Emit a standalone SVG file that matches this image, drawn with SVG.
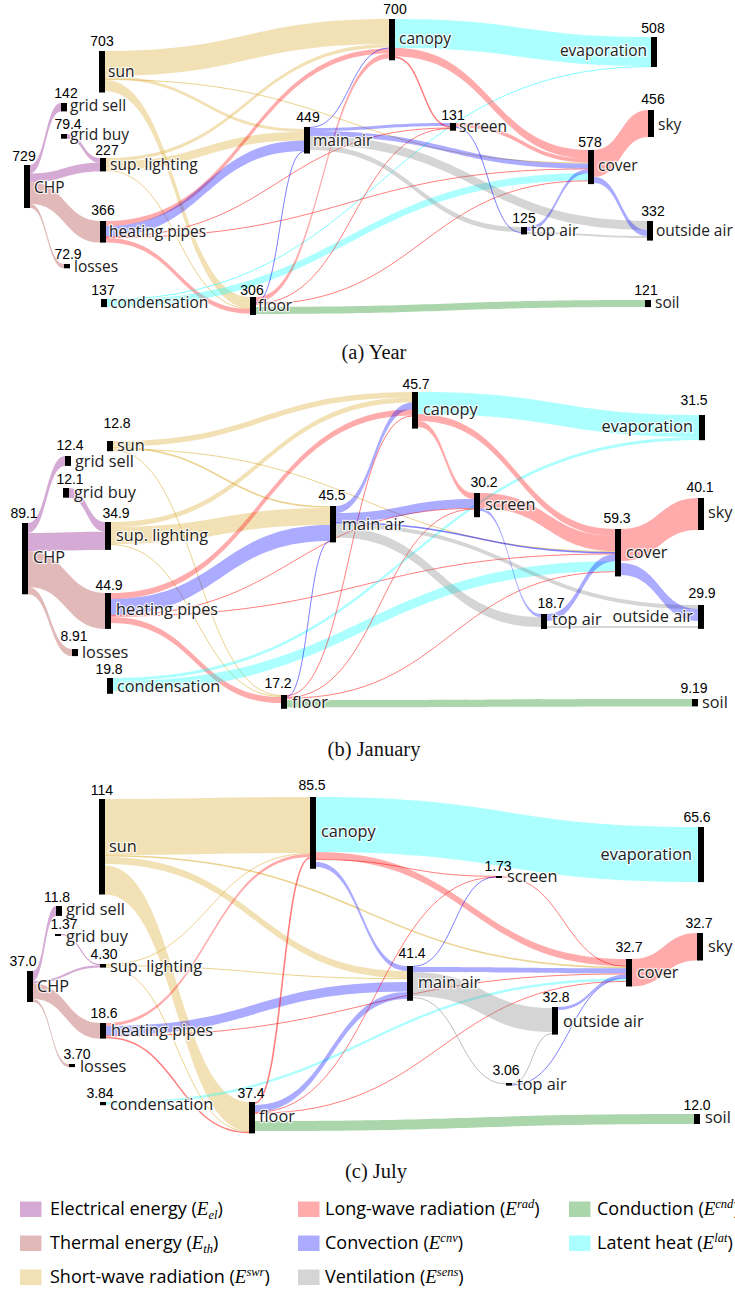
<svg xmlns="http://www.w3.org/2000/svg" width="735" height="1291" viewBox="0 0 735 1291">
<style>
.el{fill:#800080;stroke:#800080}
.th{fill:#a52a2a;stroke:#a52a2a}
.sw{fill:#daa520;stroke:#daa520}
.lw{fill:#ff0000;stroke:#ff0000}
.cv{fill:#0000ff;stroke:#0000ff}
.ve{fill:#808080;stroke:#808080}
.cd{fill:#008000;stroke:#008000}
.la{fill:#00ffff;stroke:#00ffff}
.r{stroke:none;fill-opacity:.33}
.t{fill:none;stroke-opacity:.5;stroke-width:1}
.nd{fill:#000}
.v{font-family:"Liberation Sans",Arial,sans-serif;font-size:14px;text-anchor:middle;fill:#000}
.n{font-family:"Open Sans","Noto Sans",sans-serif;font-size:15.5px;fill:#222;stroke:#fff;stroke-width:2.5px;stroke-opacity:.75;stroke-linejoin:round;paint-order:stroke}
.n2{font-size:16.3px}
.e{text-anchor:end}
.cap{font-family:"Liberation Serif","Times New Roman",serif;font-size:20.5px;text-anchor:middle;fill:#111}
.lg{font-family:"Open Sans","Noto Sans",sans-serif;font-size:18px;fill:#000}
.m{font-family:"Liberation Serif",serif;font-style:italic;font-size:19px}
.s{font-family:"Liberation Serif",serif;font-style:italic;font-size:12.5px}
</style>

<!-- ===================== PANEL (a) ===================== -->
<g id="links-a">
<path class="el r" d="M30 165C45.5 165 45.5 103 61 103L61 111.4C45.5 111.4 45.5 173.4 30 173.4Z"/>
<path class="el r" d="M30 173.4C65 173.4 65 162.7 100 162.7L100 171.4C65 171.4 65 182.1 30 182.1Z"/>
<path class="el r" d="M67 134C83.5 134 83.5 158 100 158L100 162.7C83.5 162.7 83.5 138.7 67 138.7Z"/>
<path class="th r" d="M30 182.1C65 182.1 65 221 100 221L100 242.6C65 242.6 65 203.7 30 203.7Z"/>
<path class="th r" d="M30 203.7C47 203.7 47 264 64 264L64 268.3C47 268.3 47 208 30 208Z"/>
<path class="sw r" d="M105 51C247 51 247 19 389 19L389 44C247 44 247 76 105 76Z"/>
<path class="sw r" d="M105 76C204.5 76 204.5 129 304 129L304 132C204.5 132 204.5 79 105 79Z"/>
<path class="sw t" d="M105 79.5C346.5 79.5 346.5 163 588 163"/>
<path class="sw r" d="M105 80C177.5 80 177.5 297 250 297L250 308C177.5 308 177.5 91 105 91Z"/>
<path class="sw r" d="M106 158C247.5 158 247.5 44 389 44L389 47.5C247.5 47.5 247.5 161.5 106 161.5Z"/>
<path class="sw r" d="M106 161.5C205 161.5 205 132 304 132L304 140.5C205 140.5 205 170 106 170Z"/>
<path class="sw t" d="M106 170.5C178 170.5 178 308.5 250 308.5"/>
<path class="lw r" d="M106 221C247.5 221 247.5 48.5 389 48.5L389 53.5C247.5 53.5 247.5 226 106 226Z"/>
<path class="cv r" d="M106 226C205 226 205 140.5 304 140.5L304 151C205 151 205 236.5 106 236.5Z"/>
<path class="lw t" d="M106 236.8C278 236.8 278 128 450 128"/>
<path class="lw t" d="M106 237.6C347 237.6 347 168.9 588 168.9"/>
<path class="lw r" d="M106 238C178 238 178 309 250 309L250 313.6C178 313.6 178 242.6 106 242.6Z"/>
<path class="la t" d="M107 299.5C379 299.5 379 66.5 651 66.5"/>
<path class="la r" d="M107 300C347.5 300 347.5 173.3 588 173.3L588 180.4C347.5 180.4 347.5 307.1 107 307.1Z"/>
<path class="lw r" d="M256 297C322.5 297 322.5 53.5 389 53.5L389 58.5C322.5 58.5 322.5 302 256 302Z"/>
<path class="cv t" d="M256 302.5C280 302.5 280 151.5 304 151.5"/>
<path class="lw t" d="M256 303.4C353 303.4 353 128.5 450 128.5"/>
<path class="lw t" d="M256 304.2C422 304.2 422 180.8 588 180.8"/>
<path class="cd r" d="M256 307C450.5 307 450.5 300 645 300L645 307C450.5 307 450.5 314 256 314Z"/>
<path class="cv t" d="M310 127.5C349.5 127.5 349.5 48 389 48"/>
<path class="cv r" d="M310 128C380 128 380 123 450 123L450 126C380 126 380 131 310 131Z"/>
<path class="cv r" d="M310 131C449 131 449 163.5 588 163.5L588 168.5C449 168.5 449 136 310 136Z"/>
<path class="ve r" d="M310 136C478.5 136 478.5 221 647 221L647 230C478.5 230 478.5 145 310 145Z"/>
<path class="ve r" d="M310 145C415.5 145 415.5 227 521 227L521 232C415.5 232 415.5 150 310 150Z"/>
<path class="la r" d="M395 19C523 19 523 37 651 37L651 66C523 66 523 48 395 48Z"/>
<path class="lw r" d="M395 48C491.5 48 491.5 150 588 150L588 158.5C491.5 158.5 491.5 56.5 395 56.5Z"/>
<path class="lw t" style="stroke-width:1.5" d="M395 57.2C422.5 57.2 422.5 126.8 450 126.8"/>
<path class="lw r" d="M456 123C522 123 522 158.5 588 158.5L588 162.5C522 162.5 522 127 456 127Z"/>
<path class="cv t" d="M456 127.5C488.5 127.5 488.5 232.5 521 232.5"/>
<path class="cv r" d="M527 227C557.5 227 557.5 169.3 588 169.3L588 173.3C557.5 173.3 557.5 231 527 231Z"/>
<path class="ve r" d="M527 232C587 232 587 236 647 236L647 238C587 238 587 234 527 234Z"/>
<path class="lw r" d="M594 150C621 150 621 110 648 110L648 137C621 137 621 177 594 177Z"/>
<path class="cv r" d="M594 177C620.5 177 620.5 230 647 230L647 236C620.5 236 620.5 183 594 183Z"/>
</g>
<g id="a-chp"><rect class="nd" x="24" y="165" width="6" height="43"/><text class="v" x="24" y="161">729</text><text class="n" x="34" y="193">CHP</text></g>
<g id="a-sun"><rect class="nd" x="99" y="51" width="6" height="41.5"/><text class="v" x="102" y="46">703</text><text class="n" x="108" y="77">sun</text></g>
<g id="a-gridsell"><rect class="nd" x="61" y="103" width="6" height="8.4"/><text class="v" x="66" y="98">142</text><text class="n" x="70" y="111">grid sell</text></g>
<g id="a-gridbuy"><rect class="nd" x="61" y="134" width="6" height="4.7"/><text class="v" x="68" y="129">79.4</text><text class="n" x="70" y="140">grid buy</text></g>
<g id="a-sup"><rect class="nd" x="100" y="158" width="6" height="13.4"/><text class="v" x="107" y="155">227</text><text class="n" x="110" y="170">sup. lighting</text></g>
<g id="a-hp"><rect class="nd" x="100" y="221" width="6" height="21.6"/><text class="v" x="103" y="215">366</text><text class="n" x="109" y="237">heating pipes</text></g>
<g id="a-losses"><rect class="nd" x="64" y="264" width="6" height="4.3"/><text class="v" x="68" y="259">72.9</text><text class="n" x="74" y="272">losses</text></g>
<g id="a-cond"><rect class="nd" x="101" y="299" width="6" height="8.1"/><text class="v" x="103" y="295">137</text><text class="n" x="110" y="308">condensation</text></g>
<g id="a-floor"><rect class="nd" x="250" y="297" width="6" height="18"/><text class="v" x="252" y="295">306</text><text class="n" x="258" y="311">floor</text></g>
<g id="a-mainair"><rect class="nd" x="304" y="127" width="6" height="26.5"/><text class="v" x="308" y="122">449</text><text class="n" x="313" y="146">main air</text></g>
<g id="a-canopy"><rect class="nd" x="389" y="19" width="6" height="41.3"/><text class="v" x="395" y="14">700</text><text class="n" x="399" y="44">canopy</text></g>
<g id="a-screen"><rect class="nd" x="450" y="123" width="6" height="7.7"/><text class="v" x="453" y="120">131</text><text class="n" x="459" y="132">screen</text></g>
<g id="a-topair"><rect class="nd" x="521" y="227" width="6" height="7.4"/><text class="v" x="524" y="223">125</text><text class="n" x="531" y="236">top air</text></g>
<g id="a-cover"><rect class="nd" x="588" y="150" width="6" height="34.1"/><text class="v" x="590" y="147">578</text><text class="n" x="598" y="171">cover</text></g>
<g id="a-evap"><rect class="nd" x="651" y="37" width="6" height="30"/><text class="v" x="653" y="33">508</text><text class="n e" x="647" y="56">evaporation</text></g>
<g id="a-sky"><rect class="nd" x="648" y="110" width="6" height="27"/><text class="v" x="653" y="104">456</text><text class="n" x="658" y="130">sky</text></g>
<g id="a-outside"><rect class="nd" x="647" y="221" width="6" height="19.6"/><text class="v" x="653" y="216">332</text><text class="n" x="656" y="236">outside air</text></g>
<g id="a-soil"><rect class="nd" x="645" y="300" width="6" height="7.1"/><text class="v" x="646" y="295">121</text><text class="n" x="655" y="308">soil</text></g>
<text class="cap" x="374" y="359">(a) Year</text>

<!-- ===================== PANEL (b) ===================== -->
<g id="links-b">
<path class="el r" d="M28 523C46.5 523 46.5 456 65 456L65 465.9C46.5 465.9 46.5 532.9 28 532.9Z"/>
<path class="el r" d="M28 532.9C66.5 532.9 66.5 531.7 105 531.7L105 549.9C66.5 549.9 66.5 551.1 28 551.1Z"/>
<path class="el r" d="M69 488C87 488 87 522 105 522L105 531.7C87 531.7 87 497.7 69 497.7Z"/>
<path class="th r" d="M28 551.1C66.5 551.1 66.5 593 105 593L105 629C66.5 629 66.5 587.1 28 587.1Z"/>
<path class="th r" d="M28 587.1C50 587.1 50 649 72 649L72 656.1C50 656.1 50 594.2 28 594.2Z"/>
<path class="sw r" d="M113 441C262.5 441 262.5 392 412 392L412 397.5C262.5 397.5 262.5 446.5 113 446.5Z"/>
<path class="sw t" style="stroke-width:1.5" d="M113 447.5C221.5 447.5 221.5 507 330 507"/>
<path class="sw t" d="M113 449C364 449 364 551.5 615 551.5"/>
<path class="sw t" d="M113 450.3C197 450.3 197 695.5 281 695.5"/>
<path class="sw r" d="M111 522C261.5 522 261.5 397.5 412 397.5L412 402.5C261.5 402.5 261.5 527 111 527Z"/>
<path class="sw r" d="M111 527C220.5 527 220.5 508 330 508L330 525C220.5 525 220.5 544 111 544Z"/>
<path class="sw t" d="M111 544.5C196 544.5 196 696.5 281 696.5"/>
<path class="lw r" d="M111 593C261.5 593 261.5 409.5 412 409.5L412 415.5C261.5 415.5 261.5 599 111 599Z"/>
<path class="cv r" d="M111 599C220.5 599 220.5 525 330 525L330 541C220.5 541 220.5 615 111 615Z"/>
<path class="lw t" d="M111 615.4C292.5 615.4 292.5 508.4 474 508.4"/>
<path class="lw t" d="M111 616.2C363 616.2 363 553.9 615 553.9"/>
<path class="lw r" d="M111 617C196 617 196 697 281 697L281 703C196 703 196 623 111 623Z"/>
<path class="la r" d="M113 678C406 678 406 437 699 437L699 440C406 440 406 681 113 681Z"/>
<path class="la r" d="M113 681C364 681 364 561.3 615 561.3L615 571.3C364 571.3 364 691 113 691Z"/>
<path class="lw t" d="M287 695.5C349.5 695.5 349.5 416 412 416"/>
<path class="cv t" d="M287 696.5C308.5 696.5 308.5 541.5 330 541.5"/>
<path class="lw t" d="M287 697.4C380.5 697.4 380.5 509.2 474 509.2"/>
<path class="lw t" d="M287 698.2C451 698.2 451 571.7 615 571.7"/>
<path class="cd r" d="M287 700C489.5 700 489.5 699 692 699L692 706.4C489.5 706.4 489.5 707.4 287 707.4Z"/>
<path class="cv r" d="M336 506C374 506 374 402.5 412 402.5L412 409.5C374 409.5 374 513 336 513Z"/>
<path class="cv r" d="M336 513C405 513 405 499 474 499L474 508C405 508 405 522 336 522Z"/>
<path class="cv t" style="stroke-width:1.5" d="M336 522.7C475.5 522.7 475.5 552.7 615 552.7"/>
<path class="ve r" d="M336 523.5C517 523.5 517 605 698 605L698 609C517 609 517 527.5 336 527.5Z"/>
<path class="ve r" d="M336 527.5C438.5 527.5 438.5 617 541 617L541 627C438.5 627 438.5 537.5 336 537.5Z"/>
<path class="la r" d="M418 392C558.5 392 558.5 415 699 415L699 437C558.5 437 558.5 414 418 414Z"/>
<path class="lw r" d="M418 414C516.5 414 516.5 529 615 529L615 536C516.5 536 516.5 421 418 421Z"/>
<path class="lw r" d="M418 421C446 421 446 493 474 493L474 499C446 499 446 427 418 427Z"/>
<path class="lw r" d="M480 493C547.5 493 547.5 536 615 536L615 551C547.5 551 547.5 508 480 508Z"/>
<path class="cv r" d="M480 508C510.5 508 510.5 614 541 614L541 617C510.5 617 510.5 511 480 511Z"/>
<path class="cv r" d="M547 614C581 614 581 554.3 615 554.3L615 561.3C581 561.3 581 621 547 621Z"/>
<path class="ve r" d="M547 626C622.5 626 622.5 626 698 626L698 628C622.5 628 622.5 628 547 628Z"/>
<path class="lw r" d="M621 529C659.5 529 659.5 498 698 498L698 530C659.5 530 659.5 561 621 561Z"/>
<path class="cv r" d="M621 563C659.5 563 659.5 609 698 609L698 621C659.5 621 659.5 575 621 575Z"/>
</g>
<g id="b-chp"><rect class="nd" x="22" y="523" width="6" height="71.3"/><text class="v" x="24" y="518">89.1</text><text class="n n2" x="33" y="563">CHP</text></g>
<g id="b-sun"><rect class="nd" x="107" y="441" width="6" height="10.2"/><text class="v" x="117" y="428">12.8</text><text class="n n2" x="117" y="451">sun</text></g>
<g id="b-gridsell"><rect class="nd" x="65" y="456" width="6" height="9.9"/><text class="v" x="70" y="450">12.4</text><text class="n n2" x="75" y="467">grid sell</text></g>
<g id="b-gridbuy"><rect class="nd" x="63" y="488" width="6" height="9.7"/><text class="v" x="70" y="484">12.1</text><text class="n n2" x="74" y="498">grid buy</text></g>
<g id="b-sup"><rect class="nd" x="105" y="522" width="6" height="27.9"/><text class="v" x="116" y="518">34.9</text><text class="n n2" x="116" y="541">sup. lighting</text></g>
<g id="b-hp"><rect class="nd" x="105" y="593" width="6" height="35.9"/><text class="v" x="109" y="590">44.9</text><text class="n n2" x="116" y="615">heating pipes</text></g>
<g id="b-losses"><rect class="nd" x="72" y="649" width="6" height="7.1"/><text class="v" x="74" y="641">8.91</text><text class="n n2" x="82" y="658">losses</text></g>
<g id="b-cond"><rect class="nd" x="107" y="678" width="6" height="15.8"/><text class="v" x="109" y="674">19.8</text><text class="n n2" x="117" y="692">condensation</text></g>
<g id="b-floor"><rect class="nd" x="281" y="695" width="6" height="13.8"/><text class="v" x="278" y="688">17.2</text><text class="n n2" x="292" y="708">floor</text></g>
<g id="b-mainair"><rect class="nd" x="330" y="506" width="6" height="36.4"/><text class="v" x="332" y="500">45.5</text><text class="n n2" x="342" y="530">main air</text></g>
<g id="b-canopy"><rect class="nd" x="412" y="392" width="6" height="36.6"/><text class="v" x="416" y="389">45.7</text><text class="n n2" x="423" y="415">canopy</text></g>
<g id="b-screen"><rect class="nd" x="474" y="493" width="6" height="24.2"/><text class="v" x="484" y="487">30.2</text><text class="n n2" x="485" y="510">screen</text></g>
<g id="b-topair"><rect class="nd" x="541" y="614" width="6" height="15"/><text class="v" x="551" y="608">18.7</text><text class="n n2" x="552" y="625">top air</text></g>
<g id="b-cover"><rect class="nd" x="615" y="529" width="6" height="47.4"/><text class="v" x="617" y="523">59.3</text><text class="n n2" x="626" y="558">cover</text></g>
<g id="b-evap"><rect class="nd" x="699" y="415" width="6" height="25.2"/><text class="v" x="694" y="405">31.5</text><text class="n n2 e" x="693" y="432">evaporation</text></g>
<g id="b-sky"><rect class="nd" x="698" y="498" width="6" height="32"/><text class="v" x="700" y="492">40.1</text><text class="n n2" x="708" y="518">sky</text></g>
<g id="b-outside"><rect class="nd" x="698" y="605" width="6" height="23.9"/><text class="v" x="702" y="598">29.9</text><text class="n n2 e" x="693" y="622">outside air</text></g>
<g id="b-soil"><rect class="nd" x="692" y="699" width="6" height="7.4"/><text class="v" x="694" y="693">9.19</text><text class="n n2" x="702" y="708">soil</text></g>
<text class="cap" x="374" y="756">(b) January</text>

<!-- ===================== PANEL (c) ===================== -->
<g id="links-c">
<path class="el r" d="M33 971C44.5 971 44.5 906 56 906L56 915.9C44.5 915.9 44.5 980.9 33 980.9Z"/>
<path class="el r" d="M33 980.9C66.5 980.9 66.5 965.2 100 965.2L100 967.6C66.5 967.6 66.5 983.4 33 983.4Z"/>
<path class="el t" d="M61 934.6C80.5 934.6 80.5 964.6 100 964.6"/>
<path class="th r" d="M33 983.4C66.5 983.4 66.5 1023 100 1023L100 1038.6C66.5 1038.6 66.5 999 33 999Z"/>
<path class="th r" d="M33 999C51 999 51 1064 69 1064L69 1067.1C51 1067.1 51 1002.1 33 1002.1Z"/>
<path class="sw r" d="M105 799C207.5 799 207.5 797 310 797L310 853C207.5 853 207.5 855 105 855Z"/>
<path class="sw t" style="stroke-width:1.5" d="M105 855.7C365.5 855.7 365.5 967.5 626 967.5"/>
<path class="sw r" d="M105 857C256 857 256 971 407 971L407 978C256 978 256 864 105 864Z"/>
<path class="sw r" d="M105 865.5C177 865.5 177 1102 249 1102L249 1131C177 1131 177 894.5 105 894.5Z"/>
<path class="sw t" d="M106 964.5C208 964.5 208 853.5 310 853.5"/>
<path class="sw t" d="M106 965.7C256.5 965.7 256.5 978.7 407 978.7"/>
<path class="sw t" d="M106 967C177.5 967 177.5 1131.5 249 1131.5"/>
<path class="lw r" d="M106 1023C208 1023 208 854 310 854L310 857C208 857 208 1026 106 1026Z"/>
<path class="cv r" d="M106 1026C256.5 1026 256.5 982 407 982L407 991.5C256.5 991.5 256.5 1035.5 106 1035.5Z"/>
<path class="lw t" d="M106 1035.9C366 1035.9 366 973.9 626 973.9"/>
<path class="lw t" style="stroke-width:1.5" d="M106 1037.6C177.5 1037.6 177.5 1132.6 249 1132.6"/>
<path class="la r" d="M106 1102C366 1102 366 978.5 626 978.5L626 981C366 981 366 1104.5 106 1104.5Z"/>
<path class="lw t" style="stroke-width:1.6" d="M255 1103C282.5 1103 282.5 858 310 858"/>
<path class="cv r" d="M255 1105C331 1105 331 992 407 992L407 999C331 999 331 1112 255 1112Z"/>
<path class="lw t" d="M255 1112.5C375.5 1112.5 375.5 877.2 496 877.2"/>
<path class="lw t" d="M255 1113.3C440.5 1113.3 440.5 981.4 626 981.4"/>
<path class="cd r" d="M255 1121C474.5 1121 474.5 1114 694 1114L694 1124C474.5 1124 474.5 1131 255 1131Z"/>
<path class="la r" d="M316 797C507 797 507 827 698 827L698 882C507 882 507 852 316 852Z"/>
<path class="lw r" d="M316 852C471 852 471 959 626 959L626 966C471 966 471 859 316 859Z"/>
<path class="lw t" d="M316 859.5C406 859.5 406 876.3 496 876.3"/>
<path class="cv r" d="M316 862C361.5 862 361.5 966 407 966L407 971C361.5 971 361.5 867 316 867Z"/>
<path class="cv t" d="M413 966.5C454.5 966.5 454.5 876.8 496 876.8"/>
<path class="cv r" d="M413 967C519.5 967 519.5 968.3 626 968.3L626 973.3C519.5 973.3 519.5 972 413 972Z"/>
<path class="ve r" d="M413 972C482.5 972 482.5 1008 552 1008L552 1032C482.5 1032 482.5 996 413 996Z"/>
<path class="ve t" d="M413 997.5C459.5 997.5 459.5 1084 506 1084"/>
<path class="lw t" d="M502 876.8C564 876.8 564 966.4 626 966.4"/>
<path class="cv r" d="M558 1007C592 1007 592 974.5 626 974.5L626 977.5C592 977.5 592 1010 558 1010Z"/>
<path class="ve t" d="M512 1083.8C532 1083.8 532 1033.5 552 1033.5"/>
<path class="cv t" d="M512 1085C569 1085 569 977.9 626 977.9"/>
<path class="lw r" d="M632 959C664.5 959 664.5 933 697 933L697 960.5C664.5 960.5 664.5 986.5 632 986.5Z"/>
</g>
<g id="c-chp"><rect class="nd" x="27" y="971" width="6" height="31"/><text class="v" x="23" y="966">37.0</text><text class="n n2" x="37" y="992">CHP</text></g>
<g id="c-sun"><rect class="nd" x="99" y="799" width="6" height="95.5"/><text class="v" x="102" y="795">114</text><text class="n n2" x="109" y="852">sun</text></g>
<g id="c-gridsell"><rect class="nd" x="56" y="906" width="6" height="9.9"/><text class="v" x="57" y="902">11.8</text><text class="n n2" x="66" y="915">grid sell</text></g>
<g id="c-gridbuy"><rect class="nd" x="55" y="934" width="6" height="2"/><text class="v" x="64" y="929">1.37</text><text class="n n2" x="66" y="942">grid buy</text></g>
<g id="c-sup"><rect class="nd" x="100" y="964" width="6" height="3.6"/><text class="v" x="104" y="959">4.30</text><text class="n n2" x="110" y="972">sup. lighting</text></g>
<g id="c-hp"><rect class="nd" x="100" y="1023" width="6" height="15.6"/><text class="v" x="104" y="1018">18.6</text><text class="n n2" x="111" y="1036">heating pipes</text></g>
<g id="c-losses"><rect class="nd" x="69" y="1064" width="6" height="3.1"/><text class="v" x="77" y="1059">3.70</text><text class="n n2" x="80" y="1072">losses</text></g>
<g id="c-cond"><rect class="nd" x="100" y="1102" width="6" height="3.2"/><text class="v" x="100" y="1098">3.84</text><text class="n n2" x="110" y="1110">condensation</text></g>
<g id="c-floor"><rect class="nd" x="249" y="1102" width="6" height="31.4"/><text class="v" x="251" y="1098">37.4</text><text class="n n2" x="259" y="1122">floor</text></g>
<g id="c-canopy"><rect class="nd" x="310" y="797" width="6" height="71.8"/><text class="v" x="312" y="790">85.5</text><text class="n n2" x="321" y="837">canopy</text></g>
<g id="c-mainair"><rect class="nd" x="407" y="966" width="6" height="34.8"/><text class="v" x="412" y="958">41.4</text><text class="n n2" x="418" y="988">main air</text></g>
<g id="c-screen"><rect class="nd" x="496" y="876" width="6" height="2"/><text class="v" x="498" y="871">1.73</text><text class="n n2" x="507" y="882">screen</text></g>
<g id="c-topair"><rect class="nd" x="506" y="1083" width="6" height="2.6"/><text class="v" x="506" y="1075">3.06</text><text class="n n2" x="517" y="1090">top air</text></g>
<g id="c-evap"><rect class="nd" x="698" y="827" width="6" height="55.1"/><text class="v" x="697" y="822">65.6</text><text class="n n2 e" x="692" y="860">evaporation</text></g>
<g id="c-sky"><rect class="nd" x="697" y="933" width="6" height="27.5"/><text class="v" x="699" y="928">32.7</text><text class="n n2" x="708" y="952">sky</text></g>
<g id="c-cover"><rect class="nd" x="626" y="959" width="6" height="27.5"/><text class="v" x="629" y="952">32.7</text><text class="n n2" x="637" y="978">cover</text></g>
<g id="c-outside"><rect class="nd" x="552" y="1007" width="6" height="27.6"/><text class="v" x="556" y="1002">32.8</text><text class="n n2" x="563" y="1027">outside air</text></g>
<g id="c-soil"><rect class="nd" x="694" y="1114" width="6" height="10"/><text class="v" x="697" y="1110">12.0</text><text class="n n2" x="705" y="1123">soil</text></g>
<text class="cap" x="376" y="1178">(c) July</text>

<!-- ===================== LEGEND ===================== -->
<g id="legend">
<rect class="el r" x="20" y="1201.5" width="21.5" height="15.5"/>
<text class="lg" x="50" y="1215">Electrical energy (<tspan class="m">E</tspan><tspan class="s" dy="4">el</tspan><tspan dy="-4">)</tspan></text>
<rect class="th r" x="20" y="1235.5" width="21.5" height="15.5"/>
<text class="lg" x="50" y="1249">Thermal energy (<tspan class="m">E</tspan><tspan class="s" dy="4">th</tspan><tspan dy="-4">)</tspan></text>
<rect class="sw r" x="20" y="1269.5" width="21.5" height="15.5"/>
<text class="lg" x="50" y="1283">Short-wave radiation (<tspan class="m">E</tspan><tspan class="s" dy="-7">swr</tspan><tspan dy="7">)</tspan></text>
<rect class="lw r" x="298" y="1201.5" width="21.5" height="15.5"/>
<text class="lg" x="325" y="1215">Long-wave radiation (<tspan class="m">E</tspan><tspan class="s" dy="-7">rad</tspan><tspan dy="7">)</tspan></text>
<rect class="cv r" x="298" y="1235.5" width="21.5" height="15.5"/>
<text class="lg" x="325" y="1249">Convection (<tspan class="m">E</tspan><tspan class="s" dy="-7">cnv</tspan><tspan dy="7">)</tspan></text>
<rect class="ve r" x="298" y="1269.5" width="21.5" height="15.5"/>
<text class="lg" x="325" y="1283">Ventilation (<tspan class="m">E</tspan><tspan class="s" dy="-7">sens</tspan><tspan dy="7">)</tspan></text>
<rect class="cd r" x="569" y="1201.5" width="21.5" height="15.5"/>
<text class="lg" x="597" y="1215">Conduction (<tspan class="m">E</tspan><tspan class="s" dy="-7">cnd</tspan><tspan dy="7">)</tspan></text>
<rect class="la r" x="569" y="1235.5" width="21.5" height="15.5"/>
<text class="lg" x="597" y="1249">Latent heat (<tspan class="m">E</tspan><tspan class="s" dy="-7">lat</tspan><tspan dy="7">)</tspan></text>
</g>
</svg>
